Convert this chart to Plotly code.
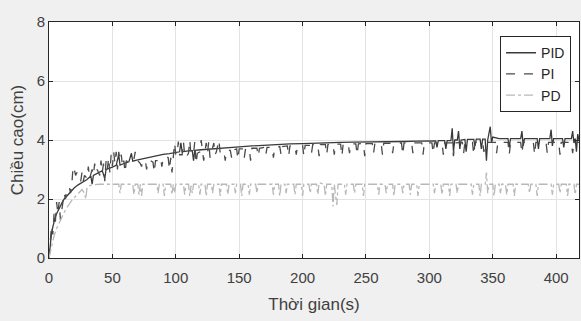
import plotly.graph_objects as go

# ---- data (time s, height cm) ----
PID_POINTS = [
    (0, 0), (1, 0.5), (2, 0.85), (3, 1.05), (4, 1.25), (5, 1.4), (6, 1.5), (8, 1.7), (10, 1.85),
    (12, 2.0), (14, 2.1), (16, 2.2), (18, 2.3), (20, 2.38), (23, 2.48), (26, 2.56), (30, 2.66),
    (33, 2.78), (34, 2.5), (35, 2.8), (38, 2.88), (42, 2.96), (44, 2.7), (45, 3.0), (50, 3.08),
    (53, 3.14), (55, 3.5), (56, 3.15), (60, 3.22), (63, 3.26), (65, 3.55), (66, 3.28), (70, 3.33),
    (75, 3.38), (80, 3.43), (85, 3.48), (90, 3.51), (95, 3.54), (100, 3.58), (103, 3.6), (104, 3.9),
    (105, 3.6), (110, 3.63), (113, 3.64), (114, 3.3), (115, 3.65), (120, 3.67), (125, 3.69),
    (130, 3.71), (135, 3.73), (140, 3.74), (150, 3.77), (160, 3.8), (170, 3.83), (180, 3.85),
    (190, 3.87), (200, 3.88), (210, 3.9), (220, 3.91), (230, 3.92), (240, 3.93), (250, 3.93),
    (260, 3.94), (270, 3.94), (280, 3.95), (290, 3.96), (300, 3.97), (305, 3.97), (306, 3.75),
    (307, 3.98), (312, 3.98), (313, 3.7), (314, 3.98), (317, 3.98), (318, 4.4), (319, 3.6),
    (320, 4.0), (322, 4.0), (323, 4.3), (324, 3.7), (325, 4.0), (328, 4.02), (329, 3.6),
    (330, 4.02), (335, 4.02), (336, 3.8), (337, 4.03), (340, 4.03), (341, 3.7), (342, 4.03),
    (344, 4.03), (345, 3.3), (346, 4.0), (348, 4.45), (349, 3.9), (350, 4.1), (355, 4.05),
    (362, 4.05), (363, 3.75), (364, 4.05), (372, 4.05), (373, 4.3), (374, 3.8), (375, 4.05),
    (385, 4.05), (386, 3.7), (387, 4.05), (395, 4.05), (396, 4.35), (397, 3.8), (398, 4.05),
    (405, 4.05), (406, 3.75), (407, 4.05), (412, 4.05), (413, 4.3), (414, 3.9), (415, 4.05),
    (416, 3.6), (417, 4.2), (418, 4.0),
]

PI_POINTS = [
    (0, 0), (1, 0.6), (2, 1.1), (3, 0.8), (4, 1.5), (5, 1.2), (6, 1.9), (7, 1.5), (8, 1.9),
    (9, 1.3), (10, 1.6), (12, 2.2), (13, 2.0), (14, 2.3), (16, 2.4), (17, 2.2), (18, 2.5),
    (19, 3.1), (20, 3.0), (21, 2.8), (22, 2.9), (23, 2.7), (25, 2.6), (26, 2.9), (27, 2.6),
    (28, 2.8), (30, 2.7), (31, 3.1), (32, 2.7), (34, 3.0), (35, 2.8), (36, 3.2), (37, 2.9),
    (38, 3.0), (40, 2.8), (41, 3.3), (42, 2.9), (43, 3.2), (44, 2.6), (45, 3.3), (46, 3.0),
    (47, 3.4), (48, 2.9), (49, 3.5), (50, 3.1), (51, 3.6), (52, 3.2), (53, 3.6), (54, 3.0),
    (55, 3.6), (56, 3.3), (57, 3.5), (58, 3.1), (59, 3.3), (60, 2.9), (61, 3.3), (63, 3.2),
    (65, 3.3), (67, 3.35), (68, 3.6), (69, 3.3), (70, 3.3), (72, 3.2), (73, 3.1), (74, 3.3),
    (76, 3.3), (77, 3.0), (78, 3.3), (80, 3.3), (82, 3.25), (83, 2.9), (84, 3.3), (86, 3.3),
    (88, 3.4), (89, 3.1), (90, 3.4), (92, 3.45), (94, 3.4), (95, 3.0), (96, 3.4), (97, 2.9),
    (98, 3.45), (99, 3.9), (100, 3.5), (101, 3.5), (102, 3.95), (103, 3.5), (105, 3.5),
    (106, 3.95), (107, 3.5), (108, 3.4), (110, 3.55), (111, 4.0), (112, 3.5), (114, 3.55),
    (115, 3.95), (116, 3.2), (117, 3.55), (119, 3.6), (120, 4.0), (121, 3.55), (122, 3.3),
    (123, 3.6), (124, 3.9), (125, 3.55), (126, 3.95), (127, 3.4), (128, 3.6), (130, 3.9),
    (131, 3.5), (132, 3.6), (134, 4.0), (135, 3.55), (136, 3.6), (138, 3.6), (139, 3.3),
    (140, 3.65), (143, 3.65), (144, 3.4), (145, 3.65), (148, 3.7), (149, 3.35), (150, 3.7),
    (153, 3.7), (154, 3.4), (155, 3.7), (158, 3.7), (159, 3.3), (160, 3.72), (164, 3.72),
    (165, 3.45), (166, 3.72), (170, 3.75), (171, 3.5), (172, 3.75), (176, 3.75), (177, 3.4),
    (178, 3.75), (182, 3.78), (183, 3.5), (184, 3.78), (188, 3.8), (189, 3.45), (190, 3.8),
    (194, 3.8), (195, 3.5), (196, 3.8), (200, 3.82), (201, 3.45), (202, 3.82), (206, 3.82),
    (207, 3.55), (208, 3.84), (212, 3.84), (213, 3.45), (214, 3.84), (218, 3.85), (219, 3.5),
    (220, 3.85), (224, 3.85), (225, 3.5), (226, 3.86), (230, 3.86), (231, 3.45), (232, 3.86),
    (236, 3.86), (237, 3.55), (238, 3.87), (242, 3.87), (243, 3.5), (244, 3.87), (248, 3.88),
    (249, 3.45), (250, 3.88), (255, 3.88), (256, 3.55), (257, 3.88), (262, 3.88), (263, 3.5),
    (264, 3.89), (270, 3.89), (271, 3.55), (272, 3.89), (278, 3.9), (279, 3.5), (280, 3.9),
    (286, 3.9), (287, 3.55), (288, 3.9), (294, 3.9), (295, 3.5), (296, 3.9), (302, 3.9),
    (303, 3.55), (304, 3.9), (310, 3.9), (311, 3.5), (312, 3.9), (318, 3.9), (319, 3.45),
    (320, 3.9), (326, 3.92), (327, 3.55), (328, 3.92), (334, 3.92), (335, 3.5), (336, 3.92),
    (342, 3.92), (343, 3.6), (344, 3.92), (352, 3.92), (353, 3.55), (354, 3.92), (362, 3.92),
    (363, 3.5), (364, 3.92), (372, 3.92), (373, 3.55), (374, 3.92), (382, 3.92), (383, 3.5),
    (384, 3.92), (392, 3.92), (393, 3.55), (394, 3.92), (402, 3.92), (403, 3.5), (404, 3.92),
    (412, 3.92), (413, 3.55), (414, 3.92), (418, 3.92),
]

PD_POINTS = [
    (0, 0), (2, 0.4), (4, 0.75), (6, 1.0), (8, 1.2), (10, 1.4), (12, 1.55), (14, 1.7),
    (16, 1.85), (18, 1.95), (20, 2.05), (22, 2.15), (24, 2.25), (26, 2.32), (28, 2.2),
    (29, 2.0), (30, 2.4), (32, 2.45), (35, 2.48), (40, 2.5), (55, 2.5), (56, 2.2), (57, 2.5),
    (66, 2.5), (67, 2.15), (68, 2.5), (70, 2.5), (71, 2.15), (72, 2.5), (73, 2.1), (74, 2.5),
    (85, 2.5), (86, 2.2), (87, 2.5), (90, 2.5), (91, 2.1), (92, 2.5), (96, 2.5), (97, 2.15),
    (98, 2.5), (99, 2.2), (100, 2.5), (106, 2.5), (107, 2.15), (108, 2.5), (110, 2.5),
    (111, 2.1), (112, 2.45), (113, 2.2), (114, 2.5), (118, 2.5), (119, 2.15), (120, 2.5),
    (123, 2.5), (124, 2.1), (125, 2.5), (128, 2.5), (129, 2.2), (130, 2.5), (134, 2.5),
    (135, 2.1), (136, 2.5), (140, 2.5), (141, 2.15), (142, 2.5), (146, 2.5), (147, 2.2),
    (148, 2.5), (151, 2.5), (152, 2.1), (153, 2.5), (157, 2.5), (158, 2.15), (159, 2.5),
    (163, 2.5), (164, 2.2), (165, 2.5), (176, 2.5), (177, 2.15), (178, 2.5), (181, 2.5),
    (182, 2.1), (183, 2.5), (186, 2.5), (187, 2.2), (188, 2.5), (193, 2.5), (194, 2.15),
    (195, 2.5), (199, 2.5), (200, 2.1), (201, 2.5), (205, 2.5), (206, 2.2), (207, 2.5),
    (211, 2.5), (212, 2.15), (213, 2.55), (217, 2.5), (218, 2.1), (219, 2.5), (223, 2.5),
    (224, 1.75), (225, 2.5), (226, 2.1), (227, 1.8), (228, 2.5), (233, 2.5), (234, 2.15),
    (235, 2.5), (240, 2.5), (241, 2.2), (242, 2.5), (247, 2.5), (248, 2.1), (249, 2.5),
    (259, 2.5), (260, 2.15), (261, 2.5), (265, 2.5), (266, 2.2), (267, 2.5), (271, 2.5),
    (272, 2.1), (273, 2.5), (278, 2.5), (279, 2.2), (280, 2.5), (284, 2.5), (285, 2.15),
    (286, 2.5), (290, 2.5), (291, 2.1), (292, 2.5), (303, 2.5), (304, 2.2), (305, 2.5),
    (309, 2.5), (310, 2.15), (311, 2.5), (315, 2.5), (316, 2.1), (317, 2.5), (321, 2.5),
    (322, 2.2), (323, 2.5), (333, 2.5), (334, 2.15), (335, 2.5), (339, 2.5), (340, 2.1),
    (341, 2.5), (344, 2.5), (345, 2.9), (346, 2.2), (347, 2.5), (350, 2.5), (351, 2.1),
    (352, 2.5), (355, 2.5), (356, 2.2), (357, 2.5), (360, 2.5), (361, 2.15), (362, 2.5),
    (366, 2.5), (367, 2.1), (368, 2.5), (378, 2.5), (379, 2.2), (380, 2.5), (384, 2.5),
    (385, 2.1), (386, 2.5), (396, 2.5), (397, 2.15), (398, 2.5), (402, 2.5), (403, 2.2),
    (404, 2.5), (408, 2.5), (409, 2.1), (410, 2.5), (414, 2.5), (415, 2.15), (416, 2.5),
    (418, 2.5),
]

SERIES_NAMES = ["PID", "PI", "PD"]
X_TICKS = [0, 50, 100, 150, 200, 250, 300, 350, 400]
Y_TICKS = [0, 2, 4, 6, 8]
X_TITLE = "Thời gian(s)"
Y_TITLE = "Chiều cao(cm)"

FONT = "Liberation Sans, Arial, sans-serif"

styles = [
    dict(color="#3a3a3a", dash="solid", width=1.3),
    dict(color="#4a4a4a", dash="dash", width=1.3),
    dict(color="#b8b8b8", dash="dashdot", width=1.3),
]

fig = go.Figure()
for name, pts, st in zip(SERIES_NAMES, [PID_POINTS, PI_POINTS, PD_POINTS], styles):
    t, v = zip(*pts)
    fig.add_trace(go.Scatter(x=list(t), y=list(v), mode="lines", name=name, line=st))

axis_common = dict(
    showline=True, mirror="ticks", linecolor="#262626", linewidth=1,
    ticks="inside", ticklen=4, tickcolor="#262626",
    showgrid=True, gridcolor="#e3e3e3", gridwidth=1, zeroline=False,
    tickfont=dict(family=FONT, size=15, color="#404040"),
    automargin=False,
)

fig.update_layout(
    width=581, height=321,
    margin=dict(l=49, r=2, t=22, b=63),
    paper_bgcolor="#f0f0f0", plot_bgcolor="white",
    font=dict(family=FONT, color="#404040"),
    xaxis=dict(range=[0, 418], tickvals=X_TICKS, ticklabelstandoff=6,
               title=dict(text=X_TITLE, font=dict(size=17, color="#404040"), standoff=13),
               **axis_common),
    yaxis=dict(range=[0, 8], tickvals=Y_TICKS, ticklabelstandoff=0,
               title=dict(text=Y_TITLE, font=dict(size=17, color="#404040"), standoff=8),
               **axis_common),
    legend=dict(x=0.985, y=0.94, xanchor="right", yanchor="top",
                bgcolor="white", bordercolor="#262626", borderwidth=1,
                font=dict(size=14, color="#262626"), tracegroupgap=0,
                itemwidth=30),
    showlegend=True,
)

fig.write_html("out.html", config={"displayModeBar": False},
               post_script="document.body.style.margin='0';")
